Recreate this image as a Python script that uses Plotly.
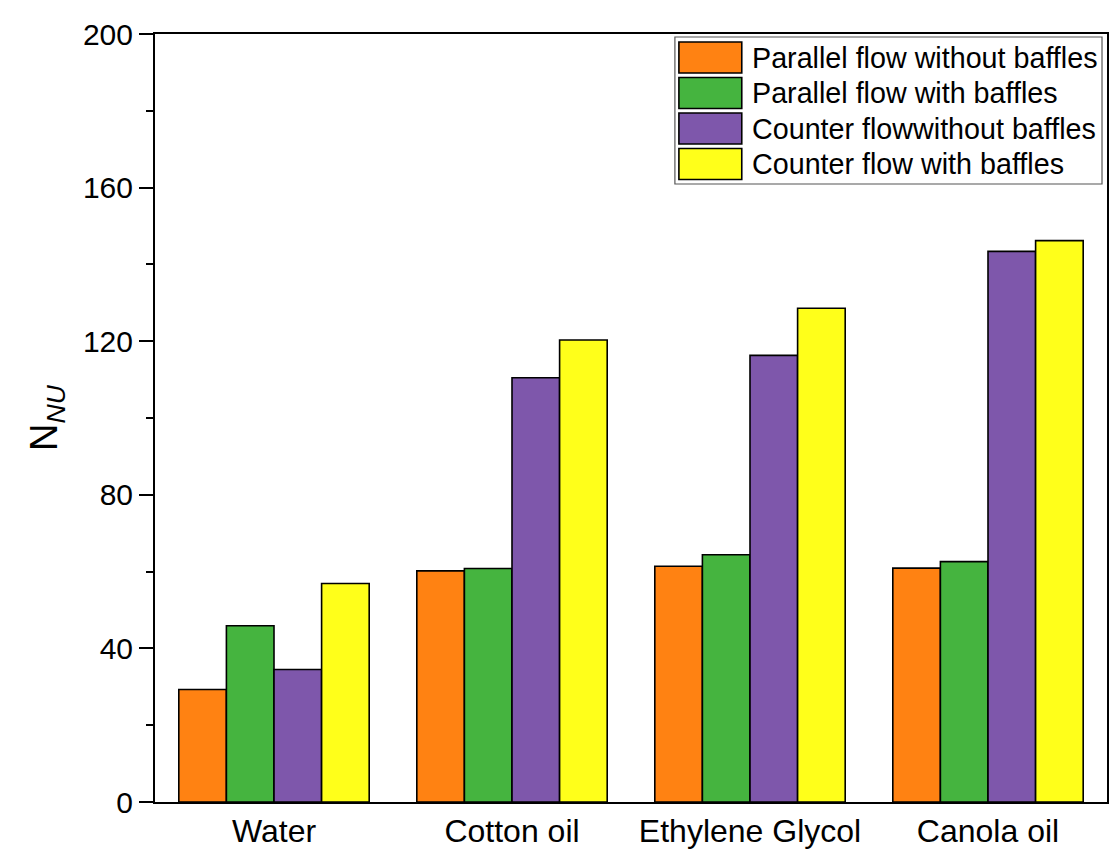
import plotly.graph_objects as go

categories = ["Water", "Cotton oil", "Ethylene Glycol", "Canola oil"]
series_names = ["Parallel flow without baffles", "Parallel flow with baffles",
                "Counter flowwithout baffles", "Counter flow with baffles"]
parallel_without = [29.3, 60.2, 61.4, 60.9]
parallel_with = [45.9, 60.8, 64.4, 62.6]
counter_without = [34.5, 110.5, 116.3, 143.4]
counter_with = [56.9, 120.3, 128.6, 146.2]
series_values = [parallel_without, parallel_with, counter_without, counter_with]
colors = ["#FF8212", "#45B43F", "#7E57AB", "#FFFF1A"]
y_ticks = [0, 40, 80, 120, 160, 200]

W, H = 1114, 862
ML, MR, MT, MB = 155, 5, 34, 60
PW, PH = W - ML - MR, H - MT - MB
FONT = "Liberation Sans, Arial, sans-serif"

def px(x):
    return (x - ML) / PW

def py(y):
    return (H - MB - y) / PH

fig = go.Figure()
for name, vals, col in zip(series_names, series_values, colors):
    fig.add_trace(go.Bar(x=categories, y=vals, name=name,
                         marker=dict(color=col, line=dict(color="black", width=1.6)),
                         showlegend=False))

# manual legend
shapes = [dict(type="rect", xref="paper", yref="paper",
               x0=px(676), x1=px(1104), y0=py(184), y1=py(37),
               line=dict(color="#555555", width=1.2), fillcolor="white", layer="above")]
annotations = []
row_h = 35.5
for i, (name, col) in enumerate(zip(series_names, colors)):
    top = 42 + i * row_h
    shapes.append(dict(type="rect", xref="paper", yref="paper",
                       x0=px(680), x1=px(743), y0=py(top + 31), y1=py(top),
                       line=dict(color="black", width=1.6), fillcolor=col, layer="above"))
    annotations.append(dict(xref="paper", yref="paper", x=px(751), y=py(top + 15.5),
                            text=name, showarrow=False, xanchor="left", yanchor="middle",
                            font=dict(family=FONT, size=28.7, color="black")))

fig.update_layout(
    width=W, height=H,
    margin=dict(l=ML, r=MR, t=MT, b=MB),
    paper_bgcolor="white", plot_bgcolor="white",
    barmode="group", bargap=0.2, bargroupgap=0,
    shapes=shapes, annotations=annotations,
    font=dict(family=FONT, color="black"),
)
fig.update_xaxes(showline=True, linecolor="black", linewidth=2, mirror=True,
                 ticks="", tickfont=dict(family=FONT, size=32, color="black"),
                 showgrid=False, range=[-0.5, 3.5])
fig.update_yaxes(range=[0, 200], tickvals=y_ticks, showline=True, linecolor="black",
                 linewidth=2, mirror=True, ticks="outside", ticklen=14, tickwidth=2,
                 tickcolor="black", showgrid=False, zeroline=False,
                 minor=dict(dtick=20, ticks="outside", ticklen=7, tickwidth=2, tickcolor="black"),
                 tickfont=dict(family=FONT, size=30, color="black"),
                 title=dict(text="N<sub><i>NU</i></sub>", font=dict(family=FONT, size=38, color="black"),
                            standoff=14))

fig.write_html("out.html")
